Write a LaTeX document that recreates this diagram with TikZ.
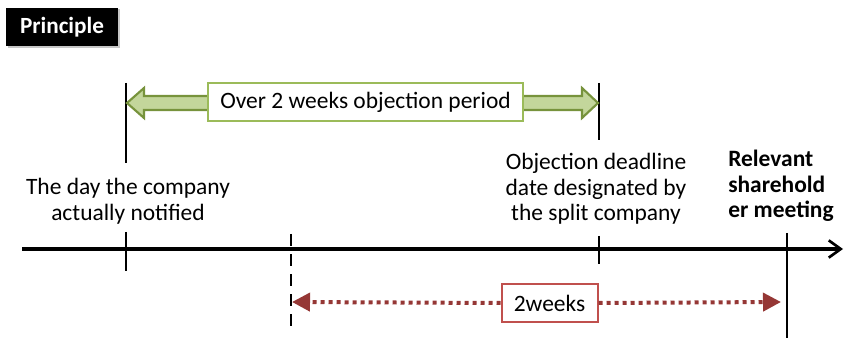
\documentclass[tikz,border=0pt]{standalone}
\usepackage{fontspec}
\setmainfont{Carlito}
\usetikzlibrary{arrows.meta,calc}
\definecolor{barfill}{HTML}{C3D69B}
\definecolor{barline}{HTML}{77933C}
\definecolor{boxgreen}{HTML}{9BBB59}
\definecolor{dotred}{HTML}{953735}
\definecolor{boxred}{HTML}{C0504D}
\tikzset{
  txt/.style = {font=\fontsize{17.6}{19.3}\selectfont, inner sep=0pt, align=center},
  tick/.style = {black, line width=1.6pt},
  label box/.style = {txt, fill=white, line width=1.5pt, minimum height=29pt}
}

\begin{document}
\begin{tikzpicture}[x=0.75pt, y=-0.75pt]
\useasboundingbox (0,0) rectangle (845,338);
% heading
\fill[black!22] (8,9) rectangle (120,48);
\node[fill=black, text=white, font=\fontsize{17.4}{19}\bfseries, minimum width=84pt, minimum height=29pt, inner sep=0pt] (head) at (62,27) {Principle};
% time axis
\coordinate (axL) at (22,249);
\coordinate (axR) at (843,249);
\draw[line width=2.3pt, -{Straight Barb[length=9pt, width=13pt, line width=2pt]}] (axL) -- (axR);
\coordinate (notified) at (126,249);
\coordinate (deadline) at (599,249);
\coordinate (twoback) at (291,249);
\coordinate (meeting) at (787,249);
\draw[tick] ($(notified)+(0,-17)$) -- ($(notified)+(0,22)$);
\draw[tick] ($(deadline)+(0,-13)$) -- ($(deadline)+(0,15)$);
\draw[tick] ($(meeting)+(0,-16)$) -- (787,338);
\draw[tick, dash pattern=on 9pt off 6pt] ($(twoback)+(0,-15)$) -- (291,332);
% upper marks
\draw[tick] (126,83) -- (126,163);
\draw[tick] (599,83) -- (599,140);
% objection period bar
\draw[barline, fill=barfill, line width=1.6pt] (127,103) -- (144,88) -- (144,96) -- (582,96) -- (582,88) -- (598,103) -- (582,118) -- (582,110) -- (144,110) -- (144,118) -- cycle;
\node[label box, draw=boxgreen, minimum width=236pt] (period) at (365.5,102) {Over 2 weeks objection period};
% two weeks span
\coordinate (spanL) at (292,302);
\coordinate (spanR) at (781,302);
\node[label box, draw=boxred, minimum width=72pt] (twoweeks) at (549.5,303) {2weeks};
\draw[dotred, line width=3pt, dash pattern=on 3pt off 3pt, -{Triangle[length=13.5pt, width=13.5pt]}] (twoweeks.west) -- (spanL);
\draw[dotred, line width=3pt, dash pattern=on 3pt off 3pt, -{Triangle[length=13.5pt, width=13.5pt]}] (twoweeks.east) -- (spanR);
% texts
\node[txt] (notifiedtxt) at (128,201) {The day the company\\actually notified};
\node[txt] (deadlinetxt) at (596,189) {Objection deadline\\date designated by\\the split company};
\node[txt, font=\fontsize{17.6}{19.3}\bfseries, align=left, anchor=west] (meetingtxt) at (728,186) {Relevant\\sharehold\\er meeting};
\end{tikzpicture}
\end{document}
